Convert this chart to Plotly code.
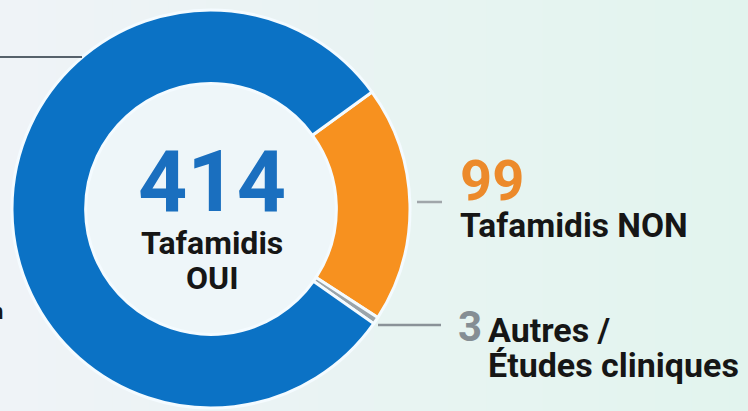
import plotly.graph_objects as go

# Treatment breakdown
labels = ["Tafamidis NON", "Autres / Études cliniques", "Tafamidis OUI"]
values = [99, 3, 414]
colors = ["#f7911f", "#9aa4aa", "#0b72c5"]

W, H = 748, 411


def px(x):
    return x / W


def py(y):
    return 1 - y / H


# donut geometry (pixels)
cx, cy, R = 211, 209, 199
hole = 0.63

fig = go.Figure()

fig.add_trace(go.Pie(
    labels=labels,
    values=values,
    hole=hole,
    sort=False,
    direction="clockwise",
    rotation=54,
    marker=dict(colors=colors, line=dict(color="#f4fbff", width=3)),
    textinfo="none",
    hoverinfo="label+value",
    showlegend=False,
    domain=dict(x=[px(cx - R), px(cx + R)], y=[py(cy + R), py(cy - R)]),
))

# soft left-to-right background gradient
shapes = []
c0 = (0xef, 0xf3, 0xf7)
c1 = (0xe2, 0xf4, 0xee)
n = 40
for i in range(n):
    t = i / (n - 1)
    c = tuple(round(a + (b - a) * t) for a, b in zip(c0, c1))
    shapes.append(dict(
        type="rect", xref="paper", yref="paper", layer="below",
        x0=i / n, x1=(i + 1) / n + 0.002, y0=0, y1=1,
        fillcolor="rgb(%d,%d,%d)" % c, line=dict(width=0),
    ))

# lighter disc inside the hole
r_in = R * hole
shapes.append(dict(
    type="circle", xref="paper", yref="paper", layer="below",
    x0=px(cx - r_in), x1=px(cx + r_in), y0=py(cy + r_in), y1=py(cy - r_in),
    fillcolor="#eef6f9", line=dict(width=0),
))


# leader lines
def hline(x0, x1, y, color, width=2):
    shapes.append(dict(
        type="line", xref="paper", yref="paper",
        x0=px(x0), x1=px(x1), y0=py(y), y1=py(y),
        line=dict(color=color, width=width),
    ))


hline(0, 82, 57, "#56616b", 2)
hline(417, 442, 202, "#a0a6aa", 2.5)
hline(378, 441, 325, "#8a9298", 2.5)

ann = []


def text(x, y, s, size, color, xanchor="left"):
    ann.append(dict(
        x=px(x), y=py(y), xref="paper", yref="paper",
        text=s, showarrow=False, xanchor=xanchor, yanchor="middle",
        align="center" if xanchor == "center" else "left",
        font=dict(family="Roboto", size=size, color=color, weight="bold"),
    ))


text(cx + 1, 181, str(values[2]), 86, "#1a6fbf", "center")
text(cx + 1, 243, "Tafamidis", 32, "#161616", "center")
text(cx + 1, 278, "OUI", 32, "#161616", "center")
text(458, 181, str(values[0]), 56, "#ec8a2b")
text(458, 225, "Tafamidis NON", 33.5, "#161616")
text(456, 326, str(values[1]), 42, "#858e94")
text(486, 330, "Autres /", 34, "#161616")
text(486, 365, "Études cliniques", 34, "#161616")
text(5, 311, "n", 22, "#161616", "right")

fig.update_layout(
    width=W, height=H,
    margin=dict(l=0, r=0, t=0, b=0),
    paper_bgcolor="#eaf3f4",
    plot_bgcolor="#eaf3f4",
    shapes=shapes,
    annotations=ann,
)

fig.write_html("out.html")
